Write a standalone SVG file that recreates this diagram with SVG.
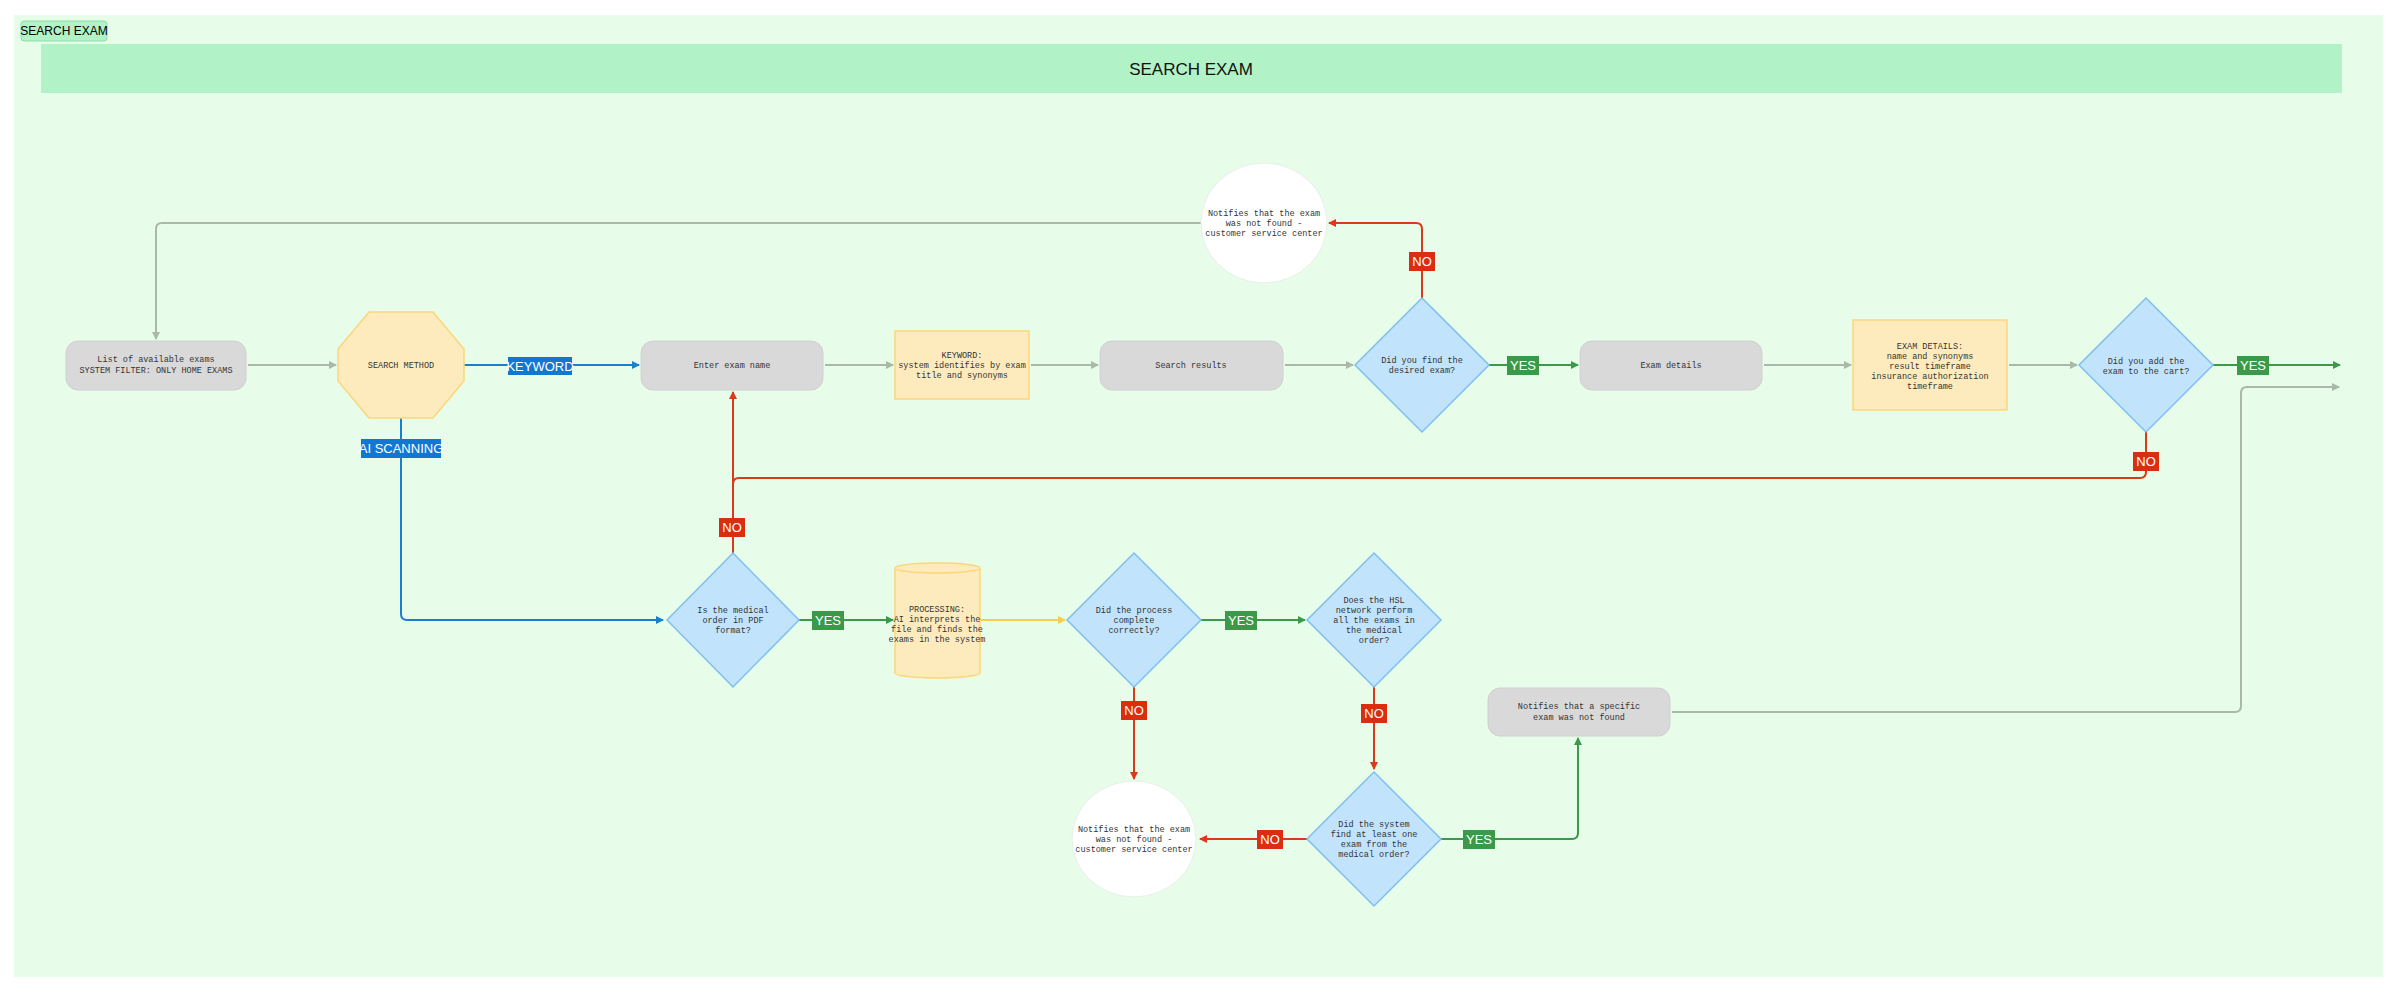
<svg xmlns="http://www.w3.org/2000/svg" width="2400" height="993" viewBox="0 0 2400 993">
<defs>
<style>
.t{font-family:"Liberation Mono","DejaVu Sans Mono",monospace;font-size:8.5px;fill:#333;text-anchor:middle}
.g{fill:#d9d9d9;stroke:#d0d0d0}
.y{fill:#feebbd;stroke:#fbd77a;stroke-width:1.5}
.d{fill:#c2e3fc;stroke:#7dc0f0;stroke-width:1.5}
.c{fill:#fff;stroke:#e6f0e6}
.lg{stroke:#a9b8a9;stroke-width:2;fill:none}
.lr{stroke:#d83a1a;stroke-width:2;fill:none}
.lgr{stroke:#3b9a4a;stroke-width:2;fill:none}
.lb{stroke:#1a7fd0;stroke-width:2;fill:none}
.ly{stroke:#f7cd4e;stroke-width:2;fill:none}
.tag{font-family:"Liberation Sans",Arial,sans-serif;font-size:13px;fill:#fff;text-anchor:middle}
</style>
<marker id="ag" markerWidth="8" markerHeight="8" refX="7" refY="4" orient="auto" markerUnits="userSpaceOnUse"><path d="M0,0L8,4L0,8z" fill="#a9b8a9"/></marker>
<marker id="ar" markerWidth="8" markerHeight="8" refX="7" refY="4" orient="auto" markerUnits="userSpaceOnUse"><path d="M0,0L8,4L0,8z" fill="#d83a1a"/></marker>
<marker id="agr" markerWidth="8" markerHeight="8" refX="7" refY="4" orient="auto" markerUnits="userSpaceOnUse"><path d="M0,0L8,4L0,8z" fill="#3b9a4a"/></marker>
<marker id="ab" markerWidth="8" markerHeight="8" refX="7" refY="4" orient="auto" markerUnits="userSpaceOnUse"><path d="M0,0L8,4L0,8z" fill="#1a7fd0"/></marker>
<marker id="ay" markerWidth="8" markerHeight="8" refX="7" refY="4" orient="auto" markerUnits="userSpaceOnUse"><path d="M0,0L8,4L0,8z" fill="#f7cd4e"/></marker>
</defs>
<rect width="2400" height="993" fill="#fff"/>
<rect x="14" y="15" width="2369" height="962" fill="#e8fde9"/>
<g id="frame-label"><rect x="21" y="21" width="86" height="20" rx="3" fill="#b2f2c7" stroke="#8fdca8"/><text x="64" y="35" font-family="Liberation Sans,Arial,sans-serif" font-size="12" text-anchor="middle" fill="#000">SEARCH EXAM</text></g>
<g id="header"><rect x="41" y="44" width="2301" height="49" fill="#b2f2c7"/><text x="1191" y="75" font-family="Liberation Sans,Arial,sans-serif" font-size="17" text-anchor="middle" fill="#111">SEARCH EXAM</text></g>

<g id="connectors">
<path class="lg" d="M1201,223H162q-6,0-6,6V339" marker-end="url(#ag)"/>
<path class="lg" d="M248,365H336" marker-end="url(#ag)"/>
<path class="lb" d="M464,365H639" marker-end="url(#ab)"/>
<path class="lg" d="M825,365H893" marker-end="url(#ag)"/>
<path class="lg" d="M1031,365H1098" marker-end="url(#ag)"/>
<path class="lg" d="M1285,365H1353" marker-end="url(#ag)"/>
<path class="lr" d="M1422,298V229q0-6-6-6H1329" marker-end="url(#ar)"/>
<path class="lgr" d="M1489,365H1578" marker-end="url(#agr)"/>
<path class="lg" d="M1764,365H1851" marker-end="url(#ag)"/>
<path class="lg" d="M2009,365H2077" marker-end="url(#ag)"/>
<path class="lgr" d="M2213,365H2340" marker-end="url(#agr)"/>
<path class="lr" d="M2146,432V472q0,6-6,6H739q-6,0-6,6" />
<path class="lr" d="M733,553V392" marker-end="url(#ar)"/>
<path class="lb" d="M401,418V614q0,6,6,6H663" marker-end="url(#ab)"/>
<path class="lgr" d="M799,620H893" marker-end="url(#agr)"/>
<path class="ly" d="M980,620H1065" marker-end="url(#ay)"/>
<path class="lgr" d="M1201,620H1305" marker-end="url(#agr)"/>
<path class="lr" d="M1134,687V779" marker-end="url(#ar)"/>
<path class="lr" d="M1374,687V769" marker-end="url(#ar)"/>
<path class="lr" d="M1307,839H1200" marker-end="url(#ar)"/>
<path class="lgr" d="M1441,839H1572q6,0,6-6V738" marker-end="url(#agr)"/>
<path class="lg" d="M1672,712H2235q6,0,6-6V393q0-6,6-6H2339" marker-end="url(#ag)"/>
</g>

<g id="labels">
<rect x="508" y="357" width="64" height="18" fill="#1177d1"/><text class="tag" x="540" y="371">KEYWORD</text>
<rect x="361" y="439" width="80" height="19" fill="#1177d1"/><text class="tag" x="401" y="453">AI SCANNING</text>
<rect x="1409" y="252" width="26" height="19" fill="#d92e0f"/><text class="tag" x="1422" y="266">NO</text>
<rect x="1507" y="356" width="32" height="19" fill="#3b9a4a"/><text class="tag" x="1523" y="370">YES</text>
<rect x="2237" y="356" width="32" height="19" fill="#3b9a4a"/><text class="tag" x="2253" y="370">YES</text>
<rect x="2133" y="452" width="26" height="19" fill="#d92e0f"/><text class="tag" x="2146" y="466">NO</text>
<rect x="719" y="518" width="26" height="19" fill="#d92e0f"/><text class="tag" x="732" y="532">NO</text>
<rect x="812" y="611" width="32" height="19" fill="#3b9a4a"/><text class="tag" x="828" y="625">YES</text>
<rect x="1225" y="611" width="32" height="19" fill="#3b9a4a"/><text class="tag" x="1241" y="625">YES</text>
<rect x="1121" y="701" width="26" height="19" fill="#d92e0f"/><text class="tag" x="1134" y="715">NO</text>
<rect x="1361" y="704" width="26" height="19" fill="#d92e0f"/><text class="tag" x="1374" y="718">NO</text>
<rect x="1257" y="830" width="26" height="19" fill="#d92e0f"/><text class="tag" x="1270" y="844">NO</text>
<rect x="1463" y="830" width="32" height="19" fill="#3b9a4a"/><text class="tag" x="1479" y="844">YES</text>
</g>

<g id="list"><rect class="g" x="66" y="341" width="180" height="49" rx="12"/><text class="t" x="156" y="362">List of available exams</text><text class="t" x="156" y="373">SYSTEM FILTER: ONLY HOME EXAMS</text></g>
<g id="method"><polygon class="y" points="369,312 433,312 464,349 464,381 433,418 369,418 338,381 338,349"/><text class="t" x="401" y="368">SEARCH METHOD</text></g>
<g id="enter"><rect class="g" x="641" y="341" width="182" height="49" rx="12"/><text class="t" x="732" y="368">Enter exam name</text></g>
<g id="keyword"><rect class="y" x="895" y="331" width="134" height="68"/><text class="t" x="962" y="358">KEYWORD:</text><text class="t" x="962" y="368">system identifies by exam</text><text class="t" x="962" y="378">title and synonyms</text></g>
<g id="results"><rect class="g" x="1100" y="341" width="183" height="49" rx="12"/><text class="t" x="1191" y="368">Search results</text></g>
<g id="q-found"><polygon class="d" points="1422,298 1489,365 1422,432 1355,365"/><text class="t" x="1422" y="363">Did you find the</text><text class="t" x="1422" y="373">desired exam?</text></g>
<g id="notfound-top"><ellipse class="c" cx="1264" cy="223" rx="63" ry="60"/><text class="t" x="1264" y="216">Notifies that the exam</text><text class="t" x="1264" y="226">was not found -</text><text class="t" x="1264" y="236">customer service center</text></g>
<g id="details"><rect class="g" x="1580" y="341" width="182" height="49" rx="12"/><text class="t" x="1671" y="368">Exam details</text></g>
<g id="details-info"><rect class="y" x="1853" y="320" width="154" height="90"/><text class="t" x="1930" y="349">EXAM DETAILS:</text><text class="t" x="1930" y="359">name and synonyms</text><text class="t" x="1930" y="369">result timeframe</text><text class="t" x="1930" y="379">insurance authorization</text><text class="t" x="1930" y="389">timeframe</text></g>
<g id="q-cart"><polygon class="d" points="2146,298 2213,365 2146,432 2079,365"/><text class="t" x="2146" y="364">Did you add the</text><text class="t" x="2146" y="374">exam to the cart?</text></g>
<g id="q-pdf"><polygon class="d" points="733,553 799,620 733,687 667,620"/><text class="t" x="733" y="613">Is the medical</text><text class="t" x="733" y="623">order in PDF</text><text class="t" x="733" y="633">format?</text></g>
<g id="processing"><path class="y" d="M895,568v105a42.5,5 0 0 0 85,0v-105a42.5,5 0 0 0 -85,0a42.5,5 0 0 0 85,0"/><text class="t" x="937" y="612">PROCESSING:</text><text class="t" x="937" y="622">AI interprets the</text><text class="t" x="937" y="632">file and finds the</text><text class="t" x="937" y="642">exams in the system</text></g>
<g id="q-complete"><polygon class="d" points="1134,553 1201,620 1134,687 1067,620"/><text class="t" x="1134" y="613">Did the process</text><text class="t" x="1134" y="623">complete</text><text class="t" x="1134" y="633">correctly?</text></g>
<g id="q-network"><polygon class="d" points="1374,553 1441,620 1374,687 1307,620"/><text class="t" x="1374" y="603">Does the HSL</text><text class="t" x="1374" y="613">network perform</text><text class="t" x="1374" y="623">all the exams in</text><text class="t" x="1374" y="633">the medical</text><text class="t" x="1374" y="643">order?</text></g>
<g id="q-atleast"><polygon class="d" points="1374,772 1441,839 1374,906 1307,839"/><text class="t" x="1374" y="827">Did the system</text><text class="t" x="1374" y="837">find at least one</text><text class="t" x="1374" y="847">exam from the</text><text class="t" x="1374" y="857">medical order?</text></g>
<g id="notfound-bottom"><ellipse class="c" cx="1134" cy="839" rx="62" ry="58"/><text class="t" x="1134" y="832">Notifies that the exam</text><text class="t" x="1134" y="842">was not found -</text><text class="t" x="1134" y="852">customer service center</text></g>
<g id="specific"><rect class="g" x="1488" y="688" width="182" height="48" rx="12"/><text class="t" x="1579" y="709">Notifies that a specific</text><text class="t" x="1579" y="720">exam was not found</text></g>
</svg>
